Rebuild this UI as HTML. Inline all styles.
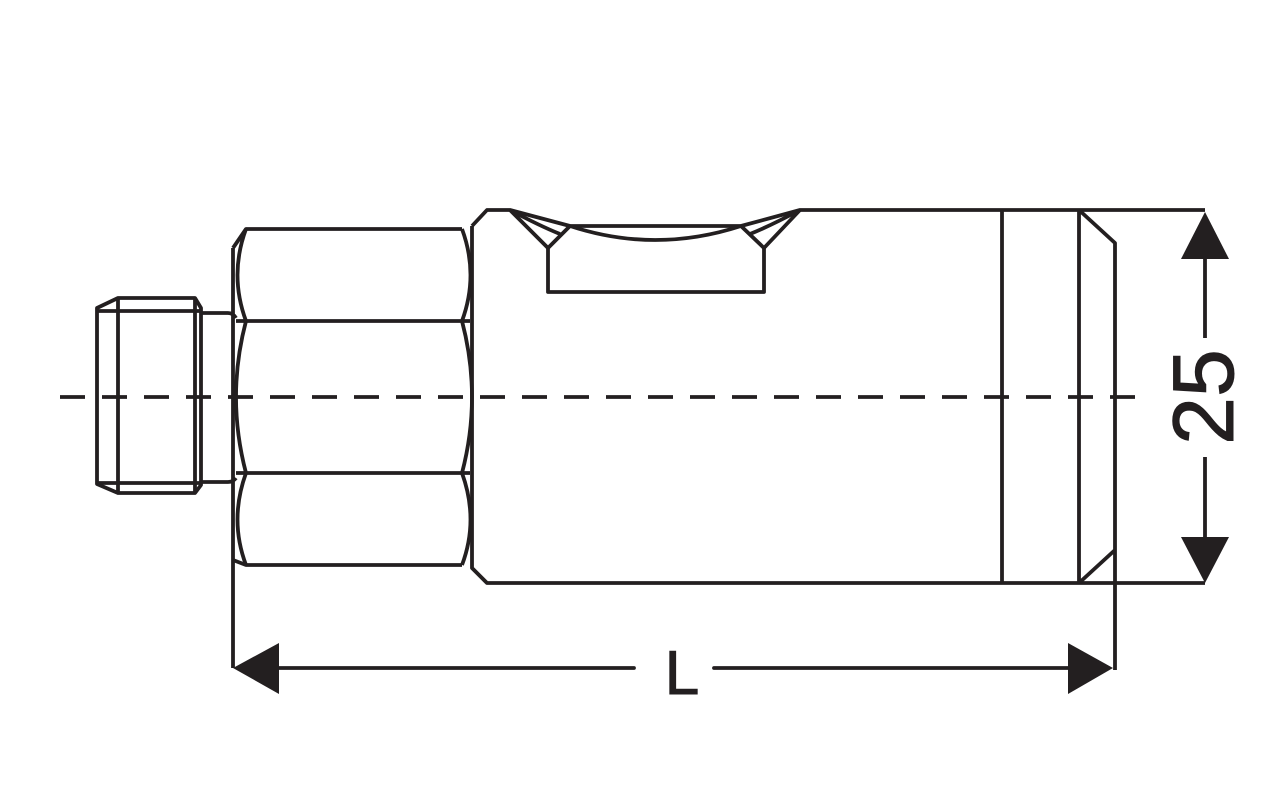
<!DOCTYPE html>
<html><head><meta charset="utf-8"><style>html,body{margin:0;padding:0;background:#fff}svg{display:block}</style></head>
<body>
<svg width="1280" height="797" viewBox="0 0 1280 797" xmlns="http://www.w3.org/2000/svg">
<g fill="none" stroke="#231f20" stroke-width="3.8" stroke-linejoin="round" stroke-linecap="butt">
<!-- thread -->
<path d="M97,308 L118,298 L195,298 L201,308 L201,485 L195,493 L118,493 L97,484 Z"/>
<path d="M118,298 L118,493 M195,298 L195,493 M97,311 L201,311 M97,483 L201,483"/>
<!-- neck -->
<path d="M201,313 L228,313 Q233,313 236,318 M201,482 L228,482 Q233,482 236,478"/>
<!-- hex -->
<path d="M233,248 L246,229 L462,229 M233,248 L233,668"/>
<path d="M246,229 Q229,275 246,321 Q226,397 246,473 Q229,520 246,565 L462,565"/>
<path d="M462,229 Q479,275 462,321 Q482,397 462,473 Q479,520 462,565"/>
<path d="M236,321 L470,321 M236,473 L470,473"/>
<path d="M233,560 L246,565"/>
<!-- body -->
<path d="M472,226 L487,210 L510,210 L570,226 L741,226 L800,210 L1205,210"/>
<path d="M472,226 L472,568 L487,583 L1205,583"/>
<path d="M510,210 L548,248 L570,226 M800,210 L764,248 L741,226"/>
<path d="M510,210 Q540,226 560,234 M800,210 Q770,226 750,234"/>
<path d="M570,226 Q655,254 741,226"/>
<path d="M548,248 L548,292 L764,292 L764,248"/>
<path d="M1002,210 L1002,583 M1079,210 L1079,583 M1079,210 L1115,243 L1115,670 M1079,583 L1115,550"/>
<!-- dimension lines -->
<path d="M1205,255 L1205,338 M1205,457 L1205,540"/>
<path d="M276,668 L634,668 M714,668 L1070,668" stroke-linecap="round"/>
<!-- center line -->
<path d="M60,397 L1145,397" stroke-dasharray="25,17"/>
</g>
<g fill="#231f20">
<path d="M1205,212 L1181,259 L1229,259 Z"/>
<path d="M1205,583 L1181,537 L1229,537 Z"/>
<path d="M233,668 L279,643 L279,694 Z"/>
<path d="M1113,668 L1068,643 L1068,694 Z"/>
</g>
<text x="682" y="694" font-family="Liberation Sans, sans-serif" font-size="62" text-anchor="middle" fill="#231f20" stroke="#231f20" stroke-width="1">L</text>
<text transform="translate(1233,397) rotate(-90)" x="0" y="0" font-family="Liberation Sans, sans-serif" font-size="86" text-anchor="middle" fill="#231f20" stroke="#231f20" stroke-width="1">25</text>
</svg>
</body></html>
